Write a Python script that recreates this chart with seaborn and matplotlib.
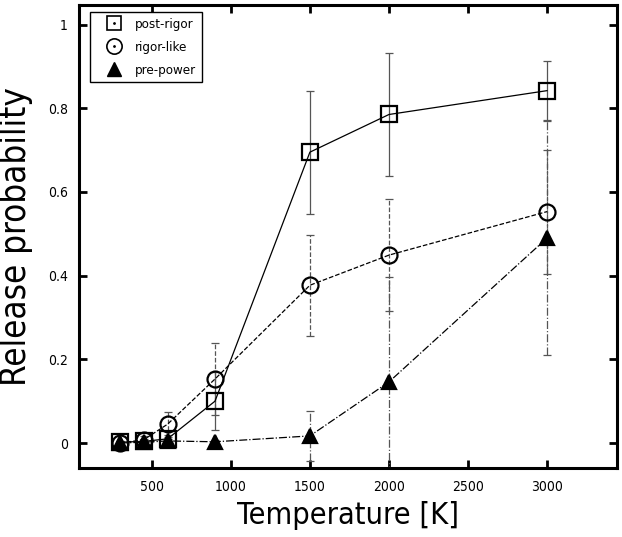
import numpy as np
import pandas as pd
import matplotlib
matplotlib.use('Agg')
import matplotlib.pyplot as plt
import seaborn as sns
from matplotlib import font_manager
from matplotlib.lines import Line2D
from matplotlib.legend_handler import HandlerTuple

# Data
temperature = [300, 450, 600, 900, 1500, 2000, 3000]

post_rigor = [0.002, 0.004, 0.010, 0.100, 0.695, 0.785, 0.842]
post_rigor_err = [0.004, 0.006, 0.010, 0.070, 0.147, 0.147, 0.070]

rigor_like = [0.000, 0.008, 0.045, 0.153, 0.377, 0.449, 0.553]
rigor_like_err = [0.004, 0.008, 0.030, 0.086, 0.121, 0.133, 0.148]

pre_power = [0.000, 0.002, 0.005, 0.003, 0.017, 0.146, 0.490]
pre_power_err = [0.002, 0.003, 0.005, 0.004, 0.060, 0.250, 0.280]

series_names = ['post-rigor', 'rigor-like', 'pre-power']
x_ticks = [500, 1000, 1500, 2000, 2500, 3000]
y_ticks = [0, 0.2, 0.4, 0.6, 0.8, 1.0]

sns.set_style('ticks')

# look for a narrow sans font (the original uses a condensed Helvetica)
font_path = None
for pref in ['LiberationSansNarrow-Regular', 'DejaVuSansCondensed.ttf']:
    for f in font_manager.fontManager.ttflist:
        if pref in f.fname:
            font_path = f.fname
            break
    if font_path:
        break


def fp(size):
    if font_path:
        return font_manager.FontProperties(fname=font_path, size=size)
    return font_manager.FontProperties(family='Liberation Sans', size=size)


plt.rcParams['font.family'] = ['Liberation Sans', 'DejaVu Sans']
for key in ['text.color', 'axes.labelcolor', 'xtick.color', 'ytick.color']:
    plt.rcParams[key] = 'k'

fig = plt.figure(figsize=(6.22, 5.37), dpi=100)
ax = fig.add_axes([0.127, 0.129, 0.8645, 0.862])

styles = {
    'post-rigor': dict(vals=post_rigor, err=post_rigor_err, marker='s', ls='-', fill='none', ms=11.5),
    'rigor-like': dict(vals=rigor_like, err=rigor_like_err, marker='o', ls='--', fill='none', ms=11.5),
    'pre-power': dict(vals=pre_power, err=pre_power_err, marker='^', ls='-.', fill='k', ms=10.5),
}

for name in series_names:
    st = styles[name]
    # error bars in grey, same dash pattern as the series
    eb = ax.errorbar(temperature, st['vals'], yerr=st['err'], fmt='none',
                     ecolor='#555555', elinewidth=0.9, capsize=3, capthick=0.9, zorder=1)
    for bl in eb[2]:
        bl.set_linestyle(st['ls'])
    df = pd.DataFrame({'T': temperature, 'p': st['vals']})
    sns.lineplot(data=df, x='T', y='p', ax=ax, color='k', linestyle=st['ls'], linewidth=0.9,
                 marker=st['marker'], markersize=st['ms'], markerfacecolor=st['fill'],
                 markeredgecolor='k', markeredgewidth=1.6, zorder=3, legend=False)

# legend with markers only (gnuplot style, dot in the open symbols)
handles = [
    (Line2D([], [], ls='none', marker='s', ms=10.5, mfc='none', mec='k', mew=1.2),
     Line2D([], [], ls='none', marker='.', ms=2, color='k')),
    (Line2D([], [], ls='none', marker='o', ms=11, mfc='none', mec='k', mew=1.2),
     Line2D([], [], ls='none', marker='.', ms=2, color='k')),
    Line2D([], [], ls='none', marker='^', ms=10, mfc='k', mec='k'),
]
leg = ax.legend(handles, series_names, handler_map={tuple: HandlerTuple()},
                loc='upper left', bbox_to_anchor=(0.0205, 0.985), borderaxespad=0,
                prop=fp(9.5), frameon=True, fancybox=False, framealpha=1, edgecolor='k',
                handlelength=2.7, handletextpad=0.25, labelspacing=0.75, borderpad=0.45)
leg.get_frame().set_linewidth(1.0)

ax.set_xlim(40, 3440)
ax.set_ylim(-0.059, 1.047)
ax.set_xticks(x_ticks)
ax.set_yticks(y_ticks)
ax.set_xticklabels([str(v) for v in x_ticks], fontproperties=fp(10))
ax.set_yticklabels(['%g' % v for v in y_ticks], fontproperties=fp(10))
ax.tick_params(axis='x', direction='in', length=6, width=2, top=True, pad=9)
ax.tick_params(axis='y', direction='in', length=6, width=2, right=True, pad=8)

for sp in ax.spines.values():
    sp.set_linewidth(2.2)
    sp.set_color('k')

ax.set_xlabel('Temperature [K]', fontproperties=fp(22), labelpad=5)
ax.set_ylabel('Release probability', fontproperties=fp(25), labelpad=11)

plt.savefig('out.png', dpi=100)
